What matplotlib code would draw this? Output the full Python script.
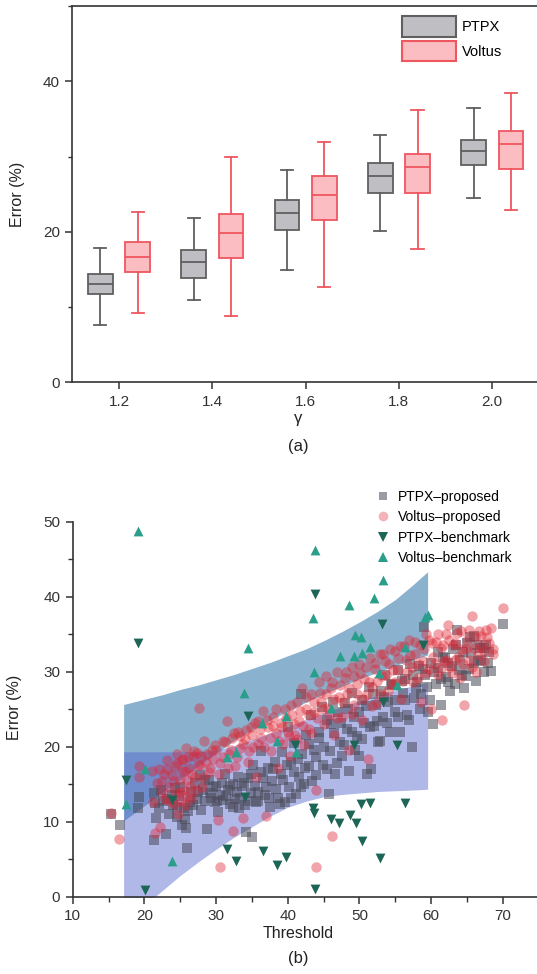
import matplotlib
matplotlib.use("Agg")
import matplotlib.pyplot as plt
from matplotlib.patches import Patch
from matplotlib.lines import Line2D
from matplotlib.ticker import MultipleLocator

plt.rcParams['font.family'] = ['Liberation Sans', 'DejaVu Sans']

# ---------------- (a) box plot data ----------------
gammas = [1.2, 1.4, 1.6, 1.8, 2.0]
# (whisker_low, q1, median, q3, whisker_high)
ptpx_stats = [
    (7.6, 11.7, 13.1, 14.4, 17.9),
    (10.9, 13.9, 16.0, 17.6, 21.8),
    (14.9, 20.3, 22.5, 24.2, 28.2),
    (20.1, 25.2, 27.4, 29.2, 32.9),
    (24.5, 28.9, 30.7, 32.2, 36.4),
]
voltus_stats = [
    (9.2, 14.7, 16.6, 18.7, 22.6),
    (8.8, 16.5, 19.8, 22.3, 30.0),
    (12.7, 21.5, 24.9, 27.4, 31.9),
    (17.7, 25.2, 28.6, 30.3, 36.2),
    (22.9, 28.4, 31.6, 33.4, 38.5),
]
box_labels = ["PTPX", "Voltus"]

# ---------------- (b) scatter data ----------------
ptpx_prop = [
    (15.3, 11.0), (16.6, 9.6), (19.2, 13.3), (19.1, 11.8),
    (21.3, 13.8), (21.5, 12.5), (21.6, 10.5), (21.4, 7.6), (22.0, 11.8), (22.3, 14.2), (23.0, 8.4), (23.2, 13.0),
    (23.5, 11.0), (24.0, 12.2), (24.3, 14.5), (24.5, 10.6), (24.8, 13.4), (25.2, 9.6), (25.5, 11.8), (25.8, 9.2),
    (26.0, 6.5), (26.3, 12.6), (26.5, 14.0), (27.0, 15.2), (27.3, 13.0),
    (27.8, 16.2), (28.2, 14.2), (28.7, 9.0), (28.5, 12.8), (29.0, 15.5), (29.3, 13.2), (29.8, 12.6), (30.0, 14.8),
    (30.3, 11.3), (30.6, 13.6), (31.0, 12.9), (31.2, 16.4), (31.6, 14.2), (32.0, 12.4), (32.3, 15.0), (32.6, 13.0),
    (33.0, 16.0), (33.2, 11.8), (33.6, 14.8), (34.0, 12.2), (34.2, 8.6), (34.5, 15.8), (34.8, 13.8), (35.0, 7.9),
    (35.2, 17.6), (35.5, 12.6), (35.8, 14.0),
    (36.2, 19.4), (36.5, 15.8), (36.8, 13.5), (37.2, 17.2), (37.5, 12.0), (37.8, 15.4), (38.2, 18.0), (38.6, 13.1),
    (39.0, 16.4), (39.2, 19.3), (39.6, 12.6), (40.0, 22.6), (40.2, 14.6), (40.5, 17.9), (40.8, 20.5), (41.2, 13.7),
    (41.5, 16.0), (41.8, 27.0), (42.0, 19.0), (42.3, 15.0), (42.6, 21.5), (43.0, 17.4), (43.3, 24.2), (43.6, 19.6),
    (44.0, 16.2), (44.3, 22.0), (44.8, 25.3), (45.0, 20.0),
    (45.5, 17.0), (45.8, 13.7), (46.0, 23.0), (46.3, 26.0), (46.6, 16.3), (47.0, 24.6), (47.3, 20.6), (47.6, 18.8),
    (48.0, 25.8), (48.3, 22.4), (48.6, 16.7), (49.0, 27.2), (49.3, 24.0), (49.6, 21.4), (50.0, 18.8), (50.3, 26.2),
    (50.6, 23.2), (51.0, 16.3), (51.3, 28.0), (51.6, 17.0), (52.0, 22.8), (52.3, 25.6), (52.6, 20.6), (53.0, 27.4),
    (53.3, 24.0), (53.6, 29.6), (54.0, 26.0), (54.3, 22.0), (54.6, 28.4), (55.0, 24.6),
    (55.3, 30.2), (55.6, 22.0), (56.0, 27.2), (56.3, 29.0), (56.6, 24.2), (57.0, 31.0), (57.3, 20.0), (57.6, 26.5),
    (58.0, 28.6), (58.3, 30.8), (58.6, 27.0), (59.0, 36.0), (59.2, 29.5), (59.6, 24.6), (60.0, 31.2), (60.3, 23.0),
    (60.6, 28.3), (61.0, 30.5), (61.3, 25.6), (61.6, 32.0),
    (62.0, 29.3), (62.3, 31.2), (62.6, 27.4), (63.0, 33.0), (63.3, 28.3), (63.6, 35.5), (64.0, 31.6), (64.3, 29.6),
    (64.6, 27.8), (65.0, 33.8), (65.3, 30.4), (65.6, 32.5), (66.0, 34.8), (66.2, 28.7), (66.5, 31.4), (66.8, 33.2),
    (67.3, 30.0), (67.6, 33.6), (68.0, 32.6), (68.3, 30.1), (70.0, 36.3),
    (22.6, 12.8), (23.8, 13.6), (24.6, 12.0), (25.0, 14.6), (25.6, 10.4), (26.1, 11.4), (26.8, 12.2), (27.5, 14.0),
    (27.9, 11.6), (28.4, 15.6), (29.1, 13.8), (29.6, 14.6), (30.1, 12.8), (30.8, 15.2), (31.4, 13.4), (31.9, 14.8),
    (32.4, 12.0), (32.9, 14.0), (33.4, 13.2), (33.9, 15.2), (34.4, 12.8), (34.9, 16.4), (35.4, 14.8), (35.9, 12.8),
    (36.3, 16.6), (36.9, 14.6), (37.4, 13.2), (37.9, 17.0), (38.4, 14.4), (38.9, 12.4), (39.4, 15.6), (39.9, 17.6),
    (40.4, 13.2), (40.9, 16.6), (41.4, 18.4), (41.9, 14.6), (42.4, 17.2), (42.9, 20.4), (43.4, 15.4), (43.9, 18.6),
    (44.4, 21.2), (44.9, 17.6), (45.4, 23.6), (45.9, 19.4), (46.4, 21.8), (46.9, 17.8), (47.4, 23.2), (47.9, 20.2),
    (48.4, 25.0), (48.9, 22.0), (49.4, 19.6), (49.9, 24.6), (50.4, 21.0), (50.9, 25.4), (51.4, 22.6), (51.9, 27.0),
    (52.4, 23.4), (52.9, 20.8), (53.4, 26.6), (53.9, 23.2), (54.4, 28.2), (54.9, 26.2), (55.4, 24.0), (55.9, 28.8),
    (56.4, 26.2), (56.9, 23.6), (57.4, 29.6), (57.9, 27.8), (58.4, 25.0), (58.9, 30.4), (59.4, 28.0), (59.9, 26.2),
    (60.4, 30.0), (60.9, 32.6), (61.4, 29.0), (61.9, 31.8), (62.4, 28.6), (62.9, 30.8), (63.4, 33.6), (63.9, 30.2),
    (64.4, 32.6), (64.9, 29.4), (65.4, 34.6), (65.9, 31.2), (66.4, 33.6), (66.9, 31.6), (67.4, 33.2), (67.9, 31.2),
]

voltus_prop = [
    (15.3, 11.2), (16.5, 7.7), (19.2, 16.0), (19.3, 17.4), (21.0, 16.8), (21.2, 12.6), (21.5, 8.5), (21.8, 15.2),
    (22.2, 9.3), (22.0, 17.0),
    (22.5, 14.0), (22.8, 16.3), (23.2, 18.2), (23.6, 12.8), (24.0, 15.4), (24.2, 17.4), (24.5, 19.0), (24.7, 11.0),
    (25.0, 14.0), (25.2, 16.8), (25.4, 18.4), (25.6, 12.2), (25.8, 19.8), (26.0, 15.6), (26.2, 17.2), (26.5, 13.2),
    (26.8, 18.8), (27.0, 16.0), (27.3, 19.2), (27.6, 25.2), (27.8, 17.5), (28.0, 14.6), (28.3, 20.8), (28.6, 18.0),
    (29.0, 16.6), (29.4, 19.5), (29.8, 20.2), (30.2, 10.2), (30.5, 4.0), (30.6, 17.8), (31.0, 20.8),
    (31.5, 23.4), (31.8, 19.0), (32.2, 21.2), (32.3, 8.8), (32.6, 17.4), (33.0, 22.0), (33.4, 19.8), (33.7, 10.5),
    (34.0, 21.0), (34.4, 18.0), (34.8, 22.6), (35.2, 20.0), (35.5, 16.0), (35.9, 23.4), (36.3, 21.2), (36.5, 24.8),
    (37.0, 10.8), (37.2, 22.6), (37.6, 19.4), (38.0, 24.0), (38.3, 21.8), (38.6, 17.2), (39.0, 23.2), (39.3, 20.4),
    (39.6, 25.0), (40.0, 22.0),
    (40.3, 18.8), (40.6, 24.2), (41.0, 21.6), (41.3, 26.0), (41.6, 23.4), (42.0, 27.8), (42.3, 20.2), (42.6, 25.0),
    (43.0, 22.4), (43.3, 27.0), (43.6, 24.6), (44.0, 4.0), (44.0, 14.2), (44.3, 28.6), (44.6, 26.0), (45.0, 23.0),
    (45.3, 29.4), (45.6, 25.2), (46.0, 27.8), (46.2, 8.1), (46.5, 21.6), (46.8, 30.0), (47.2, 26.6), (47.6, 24.0),
    (48.0, 29.2), (48.3, 27.0), (48.6, 19.6), (49.0, 30.6), (49.3, 25.6), (49.6, 28.4),
    (50.0, 31.0), (50.3, 23.6), (50.6, 29.0), (51.0, 27.0), (51.2, 18.4), (51.5, 31.8), (51.8, 28.0), (52.2, 30.4),
    (52.5, 25.8), (52.9, 32.4), (53.2, 29.4), (53.6, 31.4), (54.0, 27.4), (54.3, 33.0), (54.7, 30.2), (55.0, 28.6),
    (55.4, 31.8), (55.8, 26.4), (56.2, 33.4), (56.6, 30.0), (57.0, 32.2), (57.4, 28.6), (57.8, 34.0), (58.2, 31.0),
    (58.6, 26.0), (59.0, 33.0), (59.3, 29.8), (59.7, 34.2),
    (60.0, 25.0), (60.3, 32.0), (60.6, 34.0), (61.0, 29.6), (61.3, 33.2), (61.5, 23.5), (61.8, 31.4), (62.1, 35.0),
    (62.3, 36.2), (62.6, 30.6), (63.0, 33.6), (63.3, 31.6), (63.6, 35.2), (64.0, 29.2), (64.3, 33.0), (64.6, 25.6),
    (65.0, 34.2), (65.3, 31.6), (65.7, 37.4), (66.0, 33.2), (66.3, 30.0), (66.6, 35.4), (67.0, 33.4), (67.4, 31.4),
    (67.8, 34.6), (68.3, 35.8), (68.6, 33.0), (70.0, 38.5),
    (22.4, 15.4), (22.9, 13.0), (23.1, 17.0), (23.4, 14.6), (23.8, 16.2), (24.1, 12.4), (24.4, 13.8), (24.6, 17.8),
    (24.9, 15.6), (25.1, 12.8), (25.3, 18.2), (25.5, 14.2), (25.7, 16.8), (25.9, 13.4), (26.1, 18.6), (26.3, 14.8),
    (26.6, 16.4), (26.9, 19.4), (27.1, 14.2), (27.5, 17.6), (27.9, 18.8), (28.2, 16.0), (28.8, 19.0), (29.2, 17.2),
    (29.6, 18.4), (30.0, 19.6), (30.4, 16.4), (30.9, 18.6), (31.3, 20.6), (31.7, 17.2),
    (32.1, 19.6), (32.5, 21.8), (32.9, 18.6), (33.3, 21.4), (33.8, 20.4), (34.2, 22.2), (34.6, 19.4), (35.0, 21.6),
    (35.4, 23.2), (35.8, 20.4), (36.1, 22.4), (36.7, 20.0), (37.1, 23.6), (37.5, 21.2), (37.9, 22.8), (38.4, 25.0),
    (38.8, 20.8), (39.2, 22.6), (39.7, 23.8), (40.1, 21.4), (40.5, 25.6), (40.9, 23.0), (41.3, 21.0), (41.7, 24.8),
    (42.1, 22.8), (42.5, 26.6), (42.9, 24.2), (43.3, 21.8), (43.7, 26.0), (44.1, 23.8), (44.5, 27.2), (44.9, 25.0),
    (45.3, 27.0), (45.7, 24.2), (46.1, 28.6), (46.5, 26.4), (46.9, 23.8), (47.3, 28.2), (47.7, 26.0), (48.1, 30.0),
    (48.5, 27.8), (48.9, 24.4), (49.3, 29.4), (49.7, 27.0), (50.1, 29.8), (50.5, 26.4), (50.9, 30.6), (51.3, 28.6),
    (51.7, 25.4), (52.1, 31.2), (52.5, 28.8), (52.9, 27.0), (53.3, 32.4), (53.7, 29.6), (54.1, 31.0), (54.5, 28.4),
    (54.9, 32.8), (55.3, 30.2), (55.7, 33.4), (56.1, 28.8), (56.5, 31.6), (56.9, 34.2), (57.3, 30.6), (57.7, 32.4),
    (58.1, 29.2), (58.5, 33.6), (58.9, 31.4), (59.3, 35.0), (59.7, 30.4), (60.1, 33.8), (60.5, 31.0), (60.9, 35.0),
    (61.3, 30.4), (61.7, 33.6), (62.1, 31.6), (62.5, 34.2), (62.9, 29.8), (63.3, 33.8), (63.7, 32.0), (64.1, 35.4),
    (64.5, 31.0), (64.9, 33.0), (65.3, 35.6), (65.7, 30.6), (66.1, 34.6), (66.5, 32.2), (66.9, 34.8), (67.3, 32.8),
    (67.7, 35.6), (68.1, 33.8), (68.6, 32.4),
]

ptpx_bench_x = [19.1, 43.8, 53.2, 58.8, 55.2, 56.3, 53.3, 52.8, 51.4, 50.2, 50.3, 49.5, 48.7, 47.2, 46.0,
    49.2, 43.5, 43.6, 43.8, 41.0, 36.5, 38.5, 39.8, 32.8, 31.5, 34.5, 34.0, 23.9, 20.1, 17.5]
ptpx_bench_y = [33.8, 40.4, 36.3, 33.5, 20.2, 12.5, 26.0, 5.2, 12.5, 12.3, 7.4, 9.8, 10.9, 9.8, 10.4,
    20.2, 11.8, 11.2, 1.0, 20.2, 6.1, 4.2, 5.3, 4.8, 6.3, 24.1, 13.3, 12.9, 0.9, 15.6]

voltus_bench_x = [19.1, 43.8, 43.5, 34.5, 48.6, 52.0, 53.3, 49.4, 50.2, 51.4, 47.3, 49.2, 50.3, 43.7, 33.9,
    52.7, 55.2, 56.3, 59.5, 59.2, 46.0, 41.1, 38.5, 39.7, 36.4, 32.8, 31.5, 23.9, 20.1, 17.4]
voltus_bench_y = [48.8, 46.2, 37.2, 33.1, 38.9, 39.8, 42.2, 34.9, 34.6, 33.3, 32.1, 32.1, 32.5, 30.0, 27.2,
    29.8, 28.2, 33.3, 37.6, 37.3, 25.2, 19.3, 20.8, 24.1, 23.1, 19.3, 18.6, 4.8, 17.0, 12.4]

scatter_labels = ["PTPX\u2013proposed", "Voltus\u2013proposed", "PTPX\u2013benchmark", "Voltus\u2013benchmark"]

# shaded bands
band_x = [17.1, 20, 22.5, 25, 27.5, 30, 32.5, 35, 37.5, 40, 42.5, 45, 47.5, 50, 52.5, 55, 57.5, 59.5]
upper_band_hi = [25.6, 26.3, 26.9, 27.6, 28.2, 28.9, 29.6, 30.4, 31.2, 32.1, 33.0, 34.1, 35.3, 36.6, 38.0, 39.6, 41.6, 43.3]
upper_band_lo = [10.1, 12.1, 13.9, 15.6, 17.4, 19.1, 20.8, 22.2, 23.5, 24.7, 25.9, 27.0, 28.0, 29.0, 29.9, 30.8, 31.6, 32.2]
lower_band_hi = [19.3, 19.3, 19.3, 19.3, 19.3, 19.5, 20.1, 20.9, 21.8, 22.7, 23.6, 24.5, 25.3, 26.1, 26.8, 27.5, 28.1, 28.6]
lower_band_lo = [-3.5, -1.2, 0.8, 2.8, 4.6, 6.3, 7.9, 9.3, 10.7, 11.9, 12.7, 13.3, 13.6, 13.8, 14.0, 14.1, 14.2, 14.3]

# ---------------- figure ----------------
W, H = 537, 974
fig = plt.figure(figsize=(W / 100, H / 100), dpi=100)
axc = '#333333'

# ---- (a)
ax1 = fig.add_axes([72.3 / W, 1 - 382.3 / H, (W - 72.3) / W, (382.3 - 6) / H])

def mkstats(s):
    return dict(whislo=s[0], q1=s[1], med=s[2], q3=s[3], whishi=s[4], fliers=[])

off, bw, cw = 0.04, 0.053, 0.026
specs = [(ptpx_stats, -off, '#bfbfc3', '#5f5f5f'), (voltus_stats, off, '#fbbdc2', '#ee5660')]
for stats, dx, fc, ec in specs:
    ax1.bxp([mkstats(s) for s in stats], positions=[g + dx for g in gammas],
            widths=bw, capwidths=cw, patch_artist=True, showfliers=False, manage_ticks=False,
            boxprops=dict(facecolor=fc, edgecolor=ec, linewidth=1.3),
            medianprops=dict(color=ec, linewidth=1.3),
            whiskerprops=dict(color=ec, linewidth=1.3),
            capprops=dict(color=ec, linewidth=1.3))

ax1.set_xlim(1.1, 2.096)
ax1.set_ylim(0, 50)
ax1.set_xticks(gammas)
ax1.set_xticklabels([f"{g:.1f}" for g in gammas])
ax1.yaxis.set_major_locator(MultipleLocator(20))
ax1.yaxis.set_minor_locator(MultipleLocator(10))
ax1.spines['right'].set_visible(False)
for sp in ['top', 'left', 'bottom']:
    ax1.spines[sp].set_color(axc)
    ax1.spines[sp].set_linewidth(1.2)
ax1.tick_params(axis='both', which='major', direction='out', length=5, width=1.1,
                colors=axc, labelsize=11, pad=4)
ax1.tick_params(axis='y', which='minor', direction='out', length=3, width=1.0, colors=axc)
ax1.set_ylabel("Error (%)", fontsize=11.5, color='#222222')
ax1.yaxis.set_label_coords((25 - 72.3) / (W - 72.3), 0.5)
ax1.set_xlabel("\u03b3", fontsize=12, color='#222222')
ax1.xaxis.label.set_va('center')
ax1.xaxis.set_label_coords((298 - 72.3) / (W - 72.3), (382.3 - 418) / (382.3 - 6))

leg1_handles = [Patch(facecolor=specs[0][2], edgecolor=specs[0][3], linewidth=1.5),
                Patch(facecolor=specs[1][2], edgecolor=specs[1][3], linewidth=1.5)]
ax1.legend(leg1_handles, box_labels, loc='upper left',
           bbox_to_anchor=(401.7 / W, 1 - 16.5 / H), bbox_transform=fig.transFigure,
           frameon=False, fontsize=10.5, handlelength=3.7, handleheight=1.75,
           labelspacing=0.3, handletextpad=0.45, borderpad=0, borderaxespad=0)

fig.text(298 / W, 1 - 447 / H, "(a)", ha='center', va='center', fontsize=12, color='#222222')

# ---- (b)
ax2 = fig.add_axes([72.7 / W, 1 - 896.5 / H, (W - 72.7) / W, (896.5 - 521.5) / H])
ax2.fill_between(band_x, upper_band_lo, upper_band_hi, color='#8ab2ce', linewidth=0, zorder=1)
ax2.fill_between(band_x, lower_band_lo, lower_band_hi, color='#5062cc', alpha=0.45, linewidth=0, zorder=1.1)

ax2.scatter([p[0] for p in ptpx_prop], [p[1] for p in ptpx_prop], marker='s', s=42, color='#4a4a58',
            alpha=0.55, linewidths=0, zorder=2, label=scatter_labels[0])
ax2.scatter([p[0] for p in voltus_prop], [p[1] for p in voltus_prop], marker='o', s=56, color='#de2634',
            alpha=0.42, linewidths=0, zorder=2.1, label=scatter_labels[1])
ax2.scatter(ptpx_bench_x, ptpx_bench_y, marker='v', s=50, color='#1d6556',
            linewidths=0, zorder=3, label=scatter_labels[2])
ax2.scatter(voltus_bench_x, voltus_bench_y, marker='^', s=50, color='#2a9e8b',
            linewidths=0, zorder=3, label=scatter_labels[3])

ax2.set_xlim(10, 10 + (W - 72.7) / 7.17)
ax2.set_ylim(0, 50)
ax2.xaxis.set_major_locator(MultipleLocator(10))
ax2.xaxis.set_minor_locator(MultipleLocator(5))
ax2.yaxis.set_major_locator(MultipleLocator(10))
ax2.yaxis.set_minor_locator(MultipleLocator(5))
ax2.spines['right'].set_visible(False)
ax2.spines['top'].set_visible(False)
for sp in ['left', 'bottom']:
    ax2.spines[sp].set_color(axc)
    ax2.spines[sp].set_linewidth(1.2)
ax2.tick_params(axis='both', which='major', direction='out', length=5, width=1.1,
                colors=axc, labelsize=11, pad=4)
ax2.tick_params(axis='both', which='minor', direction='out', length=3.5, width=1.0, colors=axc)
ax2.set_ylabel("Error (%)", fontsize=11.5, color='#222222')
ax2.yaxis.set_label_coords((22 - 72.7) / (W - 72.7), 0.505)
ax2.set_xlabel("Threshold", fontsize=11.5, color='#222222')
ax2.xaxis.label.set_va('center')
ax2.xaxis.set_label_coords((298 - 72.7) / (W - 72.7), (896.5 - 934) / (896.5 - 521.5))

leg2_handles = [
    Line2D([], [], marker='s', linestyle='none', markersize=6, color='#4a4a58', alpha=0.55, markeredgewidth=0),
    Line2D([], [], marker='o', linestyle='none', markersize=7, color='#de2634', alpha=0.35, markeredgewidth=0),
    Line2D([], [], marker='v', linestyle='none', markersize=7, color='#1d6556', markeredgewidth=0),
    Line2D([], [], marker='^', linestyle='none', markersize=7, color='#2a9e8b', markeredgewidth=0),
]
ax2.legend(leg2_handles, scatter_labels, loc='upper left',
           bbox_to_anchor=(376 / W, 1 - 490 / H), bbox_transform=fig.transFigure,
           frameon=False, fontsize=10, handlelength=1.0, handletextpad=0.6,
           labelspacing=0.45, borderpad=0, borderaxespad=0)

fig.text(298 / W, 1 - 958 / H, "(b)", ha='center', va='center', fontsize=12, color='#222222')

fig.savefig("out.png", dpi=100)
